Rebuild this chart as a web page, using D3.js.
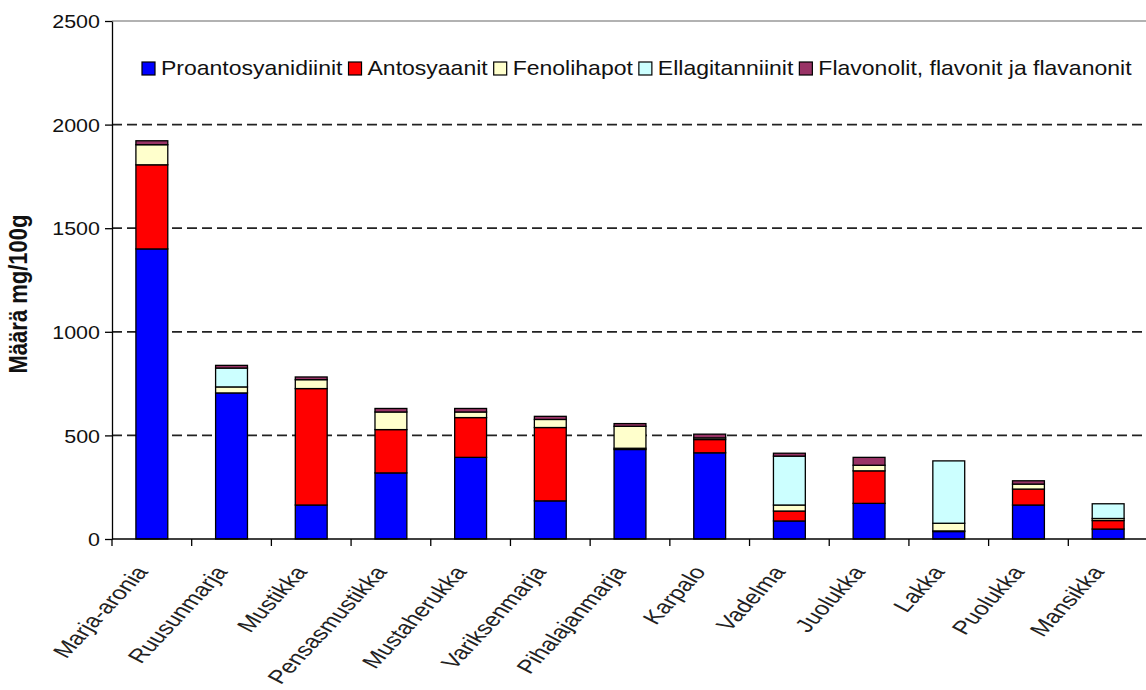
<!DOCTYPE html>
<html>
<head>
<meta charset="utf-8">
<script src="https://cdn.jsdelivr.net/npm/d3@7"></script>
<style>
  body { margin: 0; background: #fff; }
  svg { display: block; }
</style>
</head>
<body>
<svg id="chart" width="1146" height="690"></svg>
<script>
// Berry categories and polyphenol groups (mg/100g)
const categories = ["Marja-aronia", "Ruusunmarja", "Mustikka", "Pensasmustikka", "Mustaherukka",
  "Variksenmarja", "Pihalajanmarja", "Karpalo", "Vadelma", "Juolukka", "Lakka", "Puolukka", "Mansikka"];
const seriesNames = ["Proantosyanidiinit", "Antosyaanit", "Fenolihapot", "Ellagitanniinit",
  "Flavonolit, flavonit ja flavanonit"];
const proantosyanidiinit = [1400, 705, 164, 319, 394, 184, 432, 416, 87, 172, 36, 164, 48];
const antosyaanit        = [406, 0, 562, 209, 192, 354, 6, 64, 48, 157, 3, 77, 41];
const fenolihapot        = [97, 29, 43, 85, 27, 39, 106, 8, 29, 27, 37, 24, 10];
const ellagitanniinit    = [0, 91, 0, 0, 0, 0, 0, 0, 236, 0, 301, 0, 71];
const flavonolit         = [19, 13, 13, 17, 17, 15, 13, 18, 14, 38, 0, 16, 0];
const yTicks = [0, 500, 1000, 1500, 2000, 2500];
const yTitle = "Määrä mg/100g";

const colors = ["#0000ff", "#ff0000", "#ffffcc", "#ccffff", "#993366"];
const FONT = "'Liberation Sans', Arial, sans-serif";
const STRETCH = 1.13;        // glyphs are drawn slightly wide
const LEGEND_STRETCH = 1.15;
const LABEL_STRETCH = 1.35;  // category labels: widened after rotating, which slants them

const seriesValues = [proantosyanidiinit, antosyaanit, fenolihapot, ellagitanniinit, flavonolit];
const table = categories.map((c, i) => {
  const row = { category: c };
  seriesNames.forEach((s, k) => row[s] = seriesValues[k][i]);
  return row;
});
const stacked = d3.stack().keys(seriesNames)(table);

const svg = d3.select("#chart");
const plotLeft = 112, plotRight = 1148, plotTop = 21, plotBottom = 539;

const x = d3.scaleBand().domain(categories).range([plotLeft, plotRight])
  .paddingInner(0.6).paddingOuter(0.3);
const y = d3.scaleLinear().domain([0, 2500]).range([plotBottom, plotTop]);
const color = d3.scaleOrdinal().domain(seriesNames).range(colors);

// plot frame top edge
svg.append("line")
  .attr("x1", plotLeft).attr("x2", plotRight).attr("y1", y(2500)).attr("y2", y(2500))
  .attr("stroke", "#999").attr("stroke-width", 1.5);

// dashed gridlines
svg.append("g").selectAll("line")
  .data(yTicks.filter(v => v > 0 && v < 2500))
  .join("line")
  .attr("x1", plotLeft).attr("x2", plotRight)
  .attr("y1", d => y(d)).attr("y2", d => y(d))
  .attr("stroke", "#222").attr("stroke-width", 1.7)
  .attr("stroke-dasharray", "10,5");

// stacked bars
svg.append("g").selectAll("g")
  .data(stacked)
  .join("g")
  .attr("fill", d => color(d.key))
  .selectAll("rect")
  .data(d => d.filter(p => p[1] - p[0] > 0))
  .join("rect")
  .attr("x", d => x(d.data.category))
  .attr("width", x.bandwidth())
  .attr("y", d => y(d[1]))
  .attr("height", d => y(d[0]) - y(d[1]))
  .attr("stroke", "#000").attr("stroke-width", 1.3);

// y axis
const yAxis = svg.append("g")
  .attr("transform", `translate(${plotLeft},0)`)
  .call(d3.axisLeft(y).tickValues(yTicks).tickFormat(d3.format("d")).tickSize(7).tickSizeOuter(0));
yAxis.select(".domain").attr("stroke", "#000").attr("stroke-width", 1.3);
yAxis.selectAll(".tick line").attr("stroke", "#000").attr("stroke-width", 1.3);
yAxis.selectAll(".tick text")
  .attr("x", 0).attr("dy", "0.35em")
  .attr("transform", `translate(-12,0) scale(${STRETCH},1)`)
  .attr("font-family", FONT).attr("font-size", 19).attr("fill", "#111");

// x axis line and category boundary ticks
svg.append("line")
  .attr("x1", plotLeft).attr("x2", plotRight).attr("y1", plotBottom).attr("y2", plotBottom)
  .attr("stroke", "#000").attr("stroke-width", 1.3);
const step = x.step();
const bounds = categories.map(c => x(c) + x.bandwidth() / 2 - step / 2)
  .concat([x(categories[categories.length - 1]) + x.bandwidth() / 2 + step / 2]);
svg.append("g").selectAll("line")
  .data(bounds)
  .join("line")
  .attr("x1", d => d).attr("x2", d => d)
  .attr("y1", plotBottom).attr("y2", plotBottom + 7)
  .attr("stroke", "#000").attr("stroke-width", 1.3);

// category labels, rotated
svg.append("g").selectAll("text")
  .data(categories)
  .join("text")
  .attr("transform", d => `translate(${x(d) + x.bandwidth() / 2 - 3},${plotBottom + 33}) scale(${LABEL_STRETCH},1) rotate(-55)`)
  .attr("text-anchor", "end")
  .attr("font-family", FONT).attr("font-size", 19).attr("fill", "#222")
  .text(d => d);

// y axis title
svg.append("text")
  .attr("transform", `translate(27,294) scale(${STRETCH},1) rotate(-90)`)
  .attr("text-anchor", "middle")
  .attr("font-family", FONT).attr("font-size", 22).attr("font-weight", "bold").attr("fill", "#111")
  .text(yTitle);

// legend
const legend = svg.append("g");
let lx = 142;
seriesNames.forEach((name) => {
  legend.append("rect")
    .attr("x", lx).attr("y", 62).attr("width", 13).attr("height", 13)
    .attr("fill", color(name)).attr("stroke", "#000").attr("stroke-width", 1.2);
  const t = legend.append("text")
    .attr("transform", `translate(${lx + 19},75) scale(${LEGEND_STRETCH},1)`)
    .attr("font-family", FONT).attr("font-size", 20).attr("fill", "#111")
    .text(name);
  lx += 19 + t.node().getComputedTextLength() * LEGEND_STRETCH + 6;
});
</script>
</body>
</html>
